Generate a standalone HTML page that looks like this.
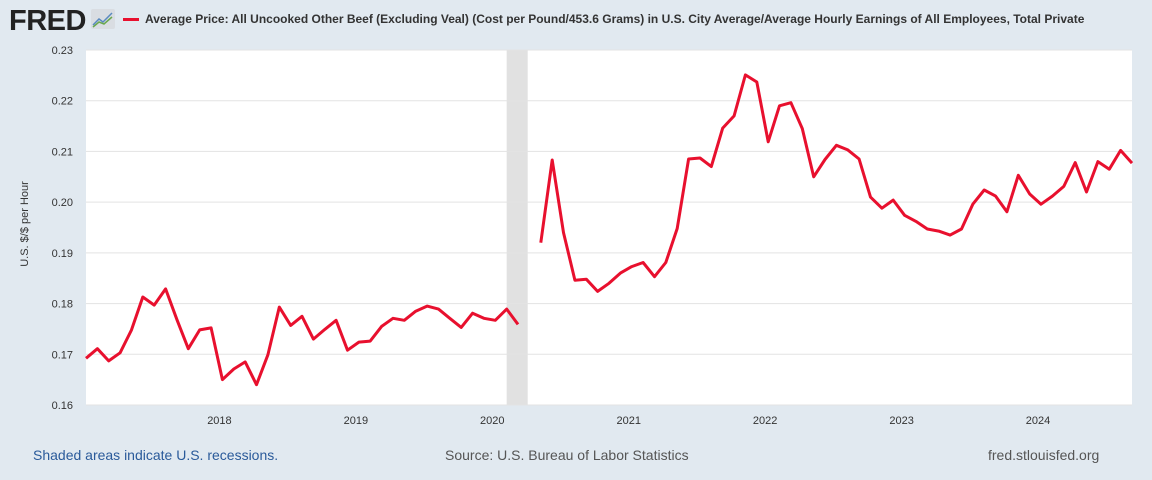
<!DOCTYPE html>
<html><head><meta charset="utf-8"><style>
body{margin:0;width:1152px;height:480px;background:#e1e9f0;font-family:"Liberation Sans",sans-serif;overflow:hidden;position:relative}
.t{position:absolute;white-space:nowrap}
</style></head><body>
<div class="t" style="left:9px;top:5px;font-size:29px;font-weight:bold;color:#222;letter-spacing:-0.5px">FRED</div>
<svg style="position:absolute;left:91px;top:9px" width="24" height="20"><rect width="24" height="20" rx="2" fill="#d9dde2"/><polyline points="2,16 8,10 12,13 21,4" fill="none" stroke="#5a8ac0" stroke-width="1.5"/><polyline points="2,18 8,13 13,15 21,8" fill="none" stroke="#6aa84f" stroke-width="1.5"/></svg>
<div style="position:absolute;left:123px;top:18px;width:16px;height:3px;background:#e8102e"></div>
<div class="t" style="left:145px;top:12px;font-size:12px;font-weight:bold;color:#333">Average Price: All Uncooked Other Beef (Excluding Veal) (Cost per Pound/453.6 Grams) in U.S. City Average/Average Hourly Earnings of All Employees, Total Private</div>
<div class="t" style="left:-18px;top:218px;font-size:11px;color:#333;transform:rotate(-90deg)">U.S. $/$ per Hour</div>
<svg id="c" style="position:absolute;left:0;top:0" width="1152" height="480"></svg>
<div class="t" style="left:33px;top:447px;font-size:14px;color:#2a5a9a">Shaded areas indicate U.S. recessions.</div>
<div class="t" style="left:445px;top:447px;font-size:14px;color:#555">Source: U.S. Bureau of Labor Statistics</div>
<div class="t" style="left:988px;top:447px;font-size:14px;color:#555">fred.stlouisfed.org</div>
<script>
const yTicks=[0.16,0.17,0.18,0.19,0.20,0.21,0.22,0.23];
const yTickLabels=["0.16","0.17","0.18","0.19","0.20","0.21","0.22","0.23"];
const xTickYears=[2018,2019,2020,2021,2022,2023,2024];
const startYear=2017;
const values=[
.1692,.1711,.1687,.1703,.1748,.1813,.1797,.1829,.1768,.1711,.1748,.1752,
.1650,.1671,.1685,.1640,.1699,.1793,.1757,.1775,.1730,.1749,.1767,.1708,
.1724,.1726,.1755,.1771,.1767,.1785,.1795,.1789,.1771,.1753,.1781,.1771,
.1767,.1789,.1759,null,.1920,.2083,.1940,.1846,.1848,.1824,.1840,.1860,
.1873,.1881,.1853,.1881,.1948,.2085,.2087,.2070,.2146,.2170,.2251,.2237,
.2119,.2190,.2196,.2145,.2050,.2084,.2112,.2103,.2085,.2010,.1988,.2004,
.1974,.1962,.1947,.1943,.1935,.1947,.1996,.2024,.2012,.1981,.2053,.2016,
.1996,.2012,.2031,.2078,.2020,.2080,.2065,.2102,.2077];
const recessions=[[2020+1/12,2020+2.85/12]];
const L=86,R=1132,T=50,B=405,ymin=0.16,ymax=0.23;
const t0=startYear, t1=startYear+(values.length-1)/12;
const X=t=>L+(t-t0)/(t1-t0)*(R-L);
const Y=v=>T+(ymax-v)/(ymax-ymin)*(B-T);
const s=document.getElementById('c'),NS='http://www.w3.org/2000/svg';
function mk(tag,a){const e=document.createElementNS(NS,tag);for(const k in a)e.setAttribute(k,a[k]);s.appendChild(e);return e;}
const bg=mk('rect',{x:L,y:T,width:R-L,height:B-T,fill:'#fff'});


recessions.forEach(r=>{const e=mk('rect',{x:X(r[0]),y:T,width:X(r[1])-X(r[0]),height:B-T,fill:'#e1e1e1'});

});
yTicks.forEach((v,i)=>{const g=mk('line',{x1:L,x2:R,y1:Y(v),y2:Y(v),stroke:'#e3e3e3','stroke-width':1});


const t=mk('text',{x:73,y:Y(v)+4,'text-anchor':'end','font-size':11,fill:'#333','font-family':'Liberation Sans'});t.textContent=yTickLabels[i];

});
xTickYears.forEach(yr=>{const t=mk('text',{x:X(yr)-3,y:424,'text-anchor':'middle','font-size':11,fill:'#333','font-family':'Liberation Sans'});t.textContent=yr;

});
let segs=[],cur=[];
values.forEach((v,i)=>{if(v===null){if(cur.length)segs.push(cur);cur=[];}else cur.push(X(t0+i/12).toFixed(1)+','+Y(v).toFixed(1));});
if(cur.length)segs.push(cur);
segs.forEach(p=>{const e=mk('polyline',{points:p.join(' '),fill:'none',stroke:'#e8102e','stroke-width':3,'stroke-linejoin':'round'});

});
</script>
</body></html>
